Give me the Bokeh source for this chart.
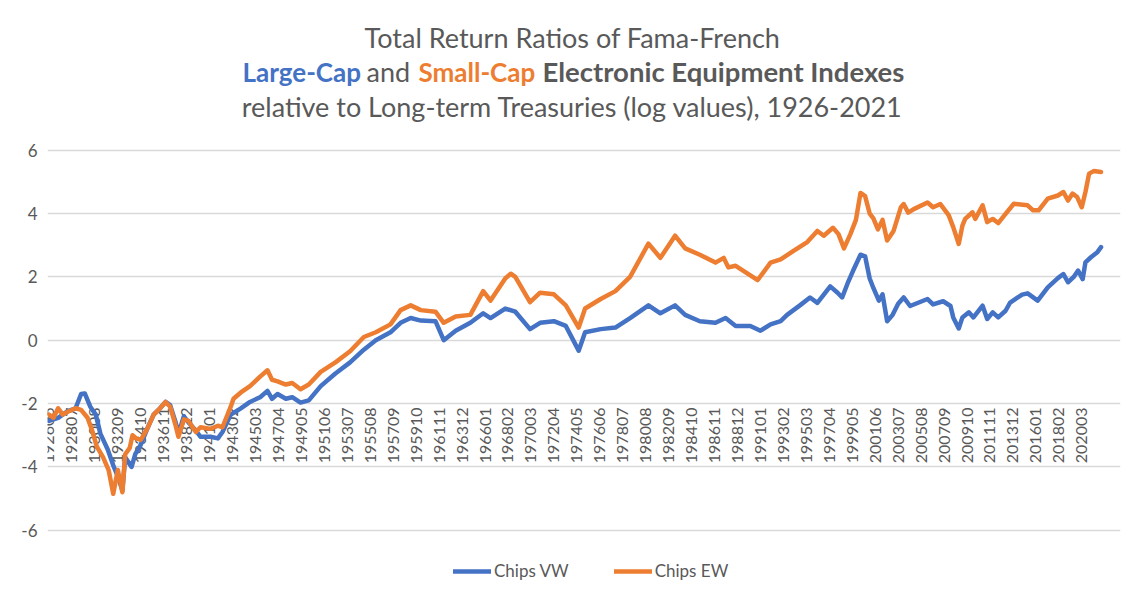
import math
from bokeh.plotting import figure
from bokeh.models import Range1d, FixedTicker, Label, Legend, LegendItem
from bokeh.core.properties import value
from bokeh.embed import file_html
from bokeh.resources import INLINE

# ---------------- data ----------------
VW_DATES = [
    192606, 192704, 192802, 192811, 192905, 192909, 193003, 193009, 193102, 193110,
    193204, 193209, 193302, 193305, 193312, 193404, 193410, 193505, 193512, 193607,
    193701, 193706, 193712, 193803, 193809, 193902, 193910, 194003, 194102, 194110,
    194203, 194212, 194311, 194409, 194508, 194604, 194609, 194703, 194712, 194807,
    194904, 195001, 195102, 195206, 195310, 195501, 195602, 195706, 195805, 195904,
    196003, 196107, 196204, 196305, 196409, 196511, 196607, 196711, 196810, 197002,
    197101, 197204, 197305, 197407, 197502, 197607, 197711, 197903, 198011, 198112,
    198304, 198403, 198507, 198612, 198711, 198810, 199002, 199101, 199112, 199211,
    199306, 199408, 199507, 199603, 199705, 199801, 199806, 199812, 199906, 200002,
    200007, 200012, 200104, 200110, 200202, 200207, 200301, 200307, 200401, 200408,
    200603, 200609, 200708, 200804, 200807, 200901, 200905, 200912, 201005, 201103,
    201108, 201202, 201208, 201304, 201309, 201410, 201504, 201603, 201702, 201801,
    201807, 201812, 201906, 201911, 202004, 202007, 202101, 202108, 202112,
]
VW_VALUES = [
    -2.55, -2.45, -2.25, -2.15, -1.70, -1.68, -2.10, -2.35, -2.95, -3.45,
    -3.95, -4.30, -4.75, -3.70, -4.00, -3.60, -3.30, -2.80, -2.35, -2.15,
    -1.95, -2.05, -2.60, -2.95, -2.40, -2.60, -2.85, -3.05, -3.05, -3.10,
    -2.90, -2.35, -2.15, -1.95, -1.80, -1.60, -1.85, -1.70, -1.85, -1.80,
    -1.97, -1.90, -1.45, -1.05, -0.70, -0.30, 0.00, 0.25, 0.55, 0.70,
    0.62, 0.60, 0.00, 0.30, 0.55, 0.85, 0.70, 1.00, 0.90, 0.35,
    0.55, 0.60, 0.45, -0.33, 0.25, 0.35, 0.40, 0.70, 1.10, 0.85,
    1.10, 0.80, 0.60, 0.55, 0.70, 0.45, 0.45, 0.30, 0.50, 0.60,
    0.80, 1.10, 1.35, 1.18, 1.70, 1.50, 1.35, 1.80, 2.20, 2.70,
    2.65, 1.95, 1.65, 1.25, 1.45, 0.60, 0.80, 1.15, 1.35, 1.08,
    1.30, 1.13, 1.23, 1.08, 0.72, 0.37, 0.72, 0.88, 0.72, 1.09,
    0.67, 0.88, 0.72, 0.93, 1.19, 1.44, 1.48, 1.25, 1.67, 1.96,
    2.09, 1.83, 1.99, 2.20, 1.93, 2.46, 2.62, 2.78, 2.94,
]

EW_DATES = [
    192606, 192611, 192704, 192709, 192803, 192811, 192905, 192912, 193005, 193010,
    193105, 193111, 193204, 193209, 193302, 193305, 193310, 193401, 193405, 193410,
    193505, 193512, 193607, 193701, 193706, 193712, 193803, 193809, 193902, 193910,
    194003, 194102, 194110, 194203, 194212, 194303, 194311, 194409, 194508, 194604,
    194609, 194703, 194712, 194807, 194904, 195001, 195102, 195206, 195310, 195501,
    195602, 195706, 195805, 195904, 196003, 196107, 196204, 196305, 196409, 196511,
    196607, 196711, 196805, 196810, 197002, 197101, 197204, 197305, 197407, 197502,
    197607, 197711, 197903, 198011, 198112, 198304, 198403, 198507, 198612, 198709,
    198802, 198810, 199002, 199010, 199112, 199211, 199401, 199504, 199603, 199610,
    199708, 199802, 199808, 199903, 199909, 200002, 200007, 200012, 200104, 200109,
    200202, 200207, 200302, 200310, 200401, 200406, 200412, 200603, 200609, 200705,
    200802, 200807, 200901, 200905, 200908, 201004, 201007, 201103, 201108, 201202,
    201208, 201304, 201401, 201504, 201510, 201604, 201702, 201801, 201807, 201812,
    201905, 201910, 202003, 202007, 202011, 202104, 202112,
]
EW_VALUES = [
    -2.35, -2.45, -2.15, -2.35, -2.25, -2.15, -2.20, -2.45, -2.85, -3.35,
    -3.70, -4.10, -4.85, -4.10, -4.80, -3.60, -3.40, -3.00, -3.10, -3.15,
    -2.80, -2.35, -2.15, -1.95, -2.10, -2.70, -3.05, -2.50, -2.55, -2.90,
    -2.75, -2.80, -2.70, -2.75, -2.10, -1.85, -1.65, -1.45, -1.15, -0.95,
    -1.25, -1.30, -1.40, -1.35, -1.55, -1.40, -1.00, -0.70, -0.35, 0.10,
    0.25, 0.50, 0.95, 1.10, 0.95, 0.90, 0.55, 0.75, 0.80, 1.55,
    1.25, 1.95, 2.10, 2.00, 1.20, 1.50, 1.45, 1.10, 0.40, 1.00,
    1.30, 1.55, 2.00, 3.05, 2.60, 3.30, 2.90, 2.70, 2.45, 2.60,
    2.30, 2.35, 2.05, 1.90, 2.45, 2.55, 2.82, 3.10, 3.45, 3.30,
    3.55, 3.35, 2.90, 3.35, 3.80, 4.65, 4.55, 4.00, 3.85, 3.50,
    3.80, 3.15, 3.45, 4.20, 4.30, 4.03, 4.14, 4.35, 4.20, 4.30,
    3.95, 3.57, 3.04, 3.62, 3.83, 4.04, 3.83, 4.26, 3.73, 3.83,
    3.70, 3.99, 4.31, 4.26, 4.10, 4.10, 4.47, 4.57, 4.68, 4.41,
    4.63, 4.52, 4.20, 4.68, 5.26, 5.34, 5.31,
]

TICK_LABELS = [
    "192606", "192807", "193008", "193209", "193410", "193611", "193812", "194101",
    "194302", "194503", "194704", "194905", "195106", "195307", "195508", "195709",
    "195910", "196111", "196312", "196601", "196802", "197003", "197204", "197405",
    "197606", "197807", "198008", "198209", "198410", "198611", "198812", "199101",
    "199302", "199503", "199704", "199905", "200106", "200307", "200508", "200709",
    "200910", "201111", "201312", "201601", "201802", "202003",
]
Y_TICKS = [-6, -4, -2, 0, 2, 4, 6]
AXIS_CROSS = -2
SERIES_NAMES = ["Chips VW", "Chips EW"]

BLUE = "#4472C4"
ORANGE = "#ED7D31"
GRAY = "#595959"
FONT = "Lato"


def month_index(code):
    y, m = divmod(int(code), 100)
    return (y - 1926) * 12 + (m - 6)


vw_x = [month_index(d) for d in VW_DATES]
ew_x = [month_index(d) for d in EW_DATES]
tick_x = [month_index(t) for t in TICK_LABELS]

W, H = 1144, 602
LEFT, RIGHT = 47, 24
# the frame covers the full height; the value range -6..6 sits between
# canvas rows 149.7 and 529.7, the rest holds the title and the legend
PX_PER_UNIT = 380 / 12
Y_TOP = 6 + 149.7 / PX_PER_UNIT
Y_BOTTOM = -6 - (H - 529.7) / PX_PER_UNIT

p = figure(
    width=W, height=H,
    output_backend="svg", toolbar_location=None,
    x_range=Range1d(-1.6, 1167.2), y_range=Range1d(Y_BOTTOM, Y_TOP),
    x_axis_location=None,
    min_border_left=LEFT, min_border_right=RIGHT, min_border_top=0, min_border_bottom=0,
)
p.outline_line_color = None
p.background_fill_color = "white"
p.border_fill_color = "white"

p.xgrid.visible = False
p.ygrid.ticker = FixedTicker(ticks=Y_TICKS)
p.ygrid.grid_line_color = "#D9D9D9"
p.ygrid.grid_line_width = 1.3

ax = p.yaxis[0]
ax.ticker = FixedTicker(ticks=Y_TICKS)
ax.major_label_overrides = {t: str(t) for t in Y_TICKS}
ax.axis_line_color = None
ax.major_tick_line_color = None
ax.minor_tick_line_color = None
ax.major_tick_out = 0
ax.major_tick_in = 0
ax.major_label_standoff = 10
ax.major_label_text_font = FONT
ax.major_label_text_font_size = "17px"
ax.major_label_text_color = GRAY

# category labels drawn at the axis crossing (value -2), rotated
p.text(x=tick_x, y=[AXIS_CROSS] * len(tick_x), text=TICK_LABELS,
       angle=math.pi / 2, text_align="right", text_baseline="middle",
       y_offset=4, text_font=value(FONT), text_font_size="16px",
       text_color=GRAY)

r_vw = p.line(vw_x, VW_VALUES, line_color=BLUE, line_width=4.5,
              line_join="round", line_cap="round")
r_ew = p.line(ew_x, EW_VALUES, line_color=ORANGE, line_width=4.5,
              line_join="round", line_cap="round")

legend = Legend(
    items=[LegendItem(label=SERIES_NAMES[0], renderers=[r_vw]),
           LegendItem(label=SERIES_NAMES[1], renderers=[r_ew])],
    orientation="horizontal", location=(453 - LEFT, H - 581),
    border_line_color=None, background_fill_alpha=0,
    label_text_font=FONT, label_text_font_size="17px", label_text_color=GRAY,
    glyph_width=38, glyph_height=20, label_height=20, label_standoff=3,
    spacing=45, padding=0, margin=0,
)
p.add_layout(legend)


def title_piece(text, x_page, y_page, color, size, bold=False, align="left"):
    lab = Label(x=x_page - LEFT, y=H - y_page, x_units="screen", y_units="screen",
                text=text, text_font=FONT, text_font_size=size,
                text_color=color, text_font_style="bold" if bold else "normal",
                text_align=align, text_baseline="middle")
    p.add_layout(lab)


title_piece("Total Return Ratios of Fama-French", 572, 37, GRAY, "27px", align="center")
title_piece("Large-Cap", 242, 71, BLUE, "26px", bold=True)
title_piece("and", 366, 71, GRAY, "27px")
title_piece("Small-Cap", 418, 71, ORANGE, "26px", bold=True)
title_piece("Electronic Equipment Indexes", 542, 71, GRAY, "27.5px", bold=True)
title_piece("relative to Long-term Treasuries (log values), 1926-2021", 572, 106, GRAY, "27px",
            align="center")

open("out.html", "w").write(file_html(p, INLINE))
